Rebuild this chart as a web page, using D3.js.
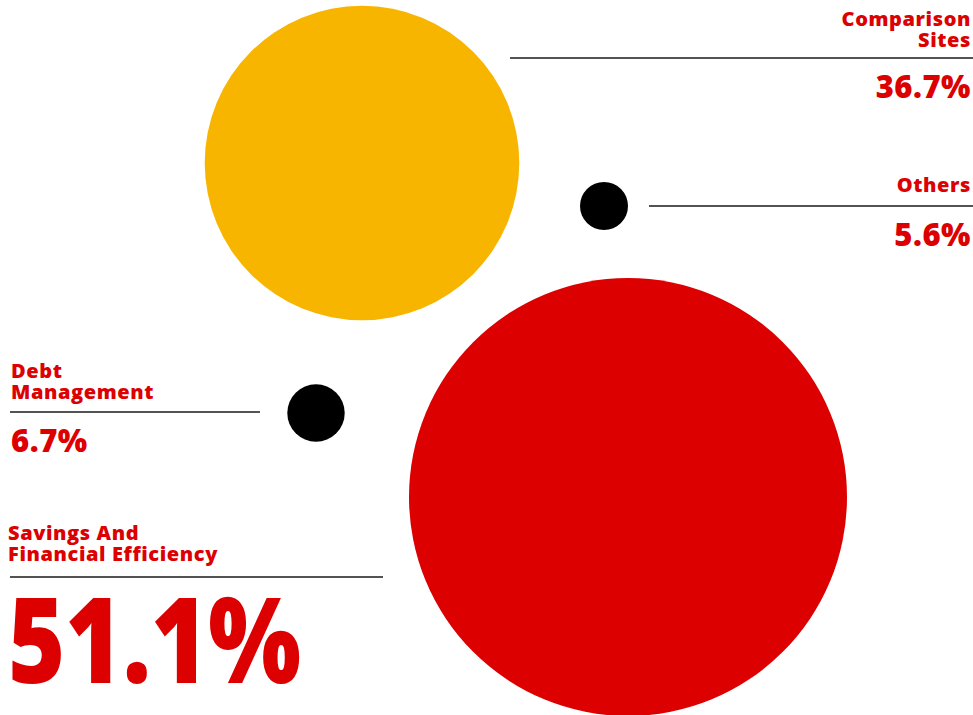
<!DOCTYPE html>
<html><head><meta charset="utf-8">
<script src="https://cdn.jsdelivr.net/npm/d3@7"></script>
<style>
html,body{margin:0;padding:0;background:#fff;}
svg{display:block;}
text{font-family:"Open Sans","Lato",sans-serif;font-weight:800;fill:#dc0000;}
</style></head>
<body><svg id="chart" width="973" height="715"></svg>
<script>
// data
const categories = ["Comparison Sites", "Others", "Debt Management", "Savings And Financial Efficiency"];
const labelLines = [["Comparison", "Sites"], ["Others"], ["Debt", "Management"], ["Savings And", "Financial Efficiency"]];
const values = [36.7, 5.6, 6.7, 51.1];
const colors = ["#f8b500", "#000000", "#000000", "#dc0000"];

// layout (positions, not data)
const bubbleCenters = [[362, 163], [604, 206], [316, 413], [628, 497]];
const labelLayout = [
  {anchor: "end", x: 971, lineY: 58, x0: 510, x1: 973, firstBase: 26, valueBase: 98, valueSize: 31},
  {anchor: "end", x: 971, lineY: 206, x0: 649, x1: 973, firstBase: 192, valueBase: 246, valueSize: 31},
  {anchor: "start", x: 11, lineY: 412, x0: 10, x1: 260, firstBase: 378, valueBase: 452, valueSize: 31},
  {anchor: "start", x: 8, lineY: 577, x0: 10, x1: 383, firstBase: 540, valueBase: 683, valueSize: 119, fitWidth: 293}
];

const svg = d3.select("#chart");
const r = d3.scaleLinear().domain([0, d3.max(values)]).range([0, 219]);
const x = d3.scaleIdentity().domain([0, 973]);
const y = d3.scaleIdentity().domain([0, 715]);

svg.selectAll("circle.bubble").data(values).join("circle")
  .attr("class", "bubble")
  .attr("cx", (d, i) => x(bubbleCenters[i][0]))
  .attr("cy", (d, i) => y(bubbleCenters[i][1]))
  .attr("r", d => r(d))
  .attr("fill", (d, i) => colors[i]);

const g = svg.selectAll("g.lbl").data(categories).join("g").attr("class", "lbl");
g.each(function(d, i) {
  const L = labelLayout[i];
  const sel = d3.select(this);
  sel.append("line")
    .attr("x1", L.x0).attr("x2", L.x1)
    .attr("y1", L.lineY).attr("y2", L.lineY)
    .attr("stroke", "#1a1a1a").attr("stroke-width", 1.6);
  labelLines[i].forEach((t, j) => {
    sel.append("text")
      .attr("x", L.x).attr("y", L.firstBase + j * 20.5)
      .attr("text-anchor", L.anchor)
      .style("font-size", "20px")
      .style("letter-spacing", "0.6px")
      .text(t);
  });
  const vt = sel.append("text")
    .attr("x", L.x).attr("y", L.valueBase)
    .attr("text-anchor", L.anchor)
    .style("font-size", L.valueSize + "px")
    .style("letter-spacing", "0.5px")
    .text(values[i].toFixed(1) + "%");
  if (L.fitWidth) {
    vt.style("letter-spacing", "0px")
      .attr("textLength", L.fitWidth)
      .attr("lengthAdjust", "spacingAndGlyphs");
  }
});
</script></body></html>
